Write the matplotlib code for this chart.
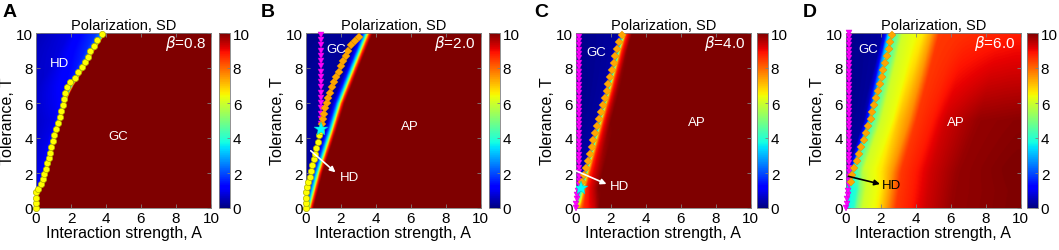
import numpy as np
import matplotlib
matplotlib.use("Agg")
import matplotlib.pyplot as plt

plt.rcParams['font.family'] = ['Liberation Sans', 'DejaVu Sans']

# ---------------- data ----------------
betas = ["0.8", "2.0", "4.0", "6.0"]
panel_letters = ["A", "B", "C", "D"]

# Field edge positions (A where the colour jumps), per panel, as (T, A)
edgeA_T = [0, 1, 2, 3, 4, 5, 6, 6.5, 7, 8, 9, 10]
edgeA_A = [0.05, 0.12, 0.5, 0.75, 1.0, 1.3, 1.65, 1.85, 2.1, 2.75, 3.3, 3.95]
edgeB_T = [0, 2, 4.4, 6, 8, 10]
edgeB_A = [0.12, 0.63, 1.39, 1.87, 2.65, 3.45]
edgeC_T = [0, 1.14, 3, 5, 7, 9, 10]
edgeC_A = [0.12, 0.28, 0.78, 1.3, 1.85, 2.35, 2.65]
edgeD_T = [0, 1, 1.5, 2, 5, 7.5, 10]
edgeD_A = [0.05, 0.2, 0.3, 0.4, 1.4, 2.05, 2.68]

# SD profiles across the edge (offset d = A - edge), at a few T rows
profA_T = [0, 5, 10]
profA_d = [[-1, -0.05, 0, 0.05],
           [-2, -0.3, -0.1, 0, 0.05],
           [-4, -2, -0.5, -0.2, -0.05, 0, 0.05]]
profA_v = [[0.6, 1.2, 8, 10],
           [0.5, 0.9, 1.6, 8, 10],
           [0.45, 0.9, 1.8, 2.6, 4, 8, 10]]

profB_T = [0, 2, 10]
profB_d = [[-1, -0.15, 0, 0.08, 0.15, 0.3],
           [-0.6, -0.35, -0.15, 0, 0.08, 0.15, 0.3],
           [-3.5, -0.4, -0.2, 0, 0.08, 0.18, 0.35]]
profB_v = [[1.5, 2, 4, 6.5, 8.5, 10],
           [0.3, 0.5, 2, 4, 6.5, 8.5, 10],
           [0.1, 0.3, 1.5, 4, 6.5, 8.5, 10]]

profC_T = [0, 1.14, 5, 10]
profC_d = [[-0.2, 0, 0.1, 0.3, 0.9, 1.2],
           [-1, -0.15, -0.05, 0, 0.08, 0.15, 0.3, 0.7, 1.0],
           [-1.3, -0.2, -0.1, 0, 0.08, 0.15, 0.3, 0.5, 0.7],
           [-2.6, -0.25, -0.12, 0, 0.08, 0.15, 0.25, 0.4, 0.55]]
profC_v = [[7, 7, 7.8, 8.6, 9.3, 10],
           [0.2, 0.5, 2, 3, 4, 7, 8.7, 9.4, 10],
           [0.1, 0.3, 1.5, 3, 4, 7, 8.8, 9.5, 10],
           [0.1, 0.3, 1.5, 3, 4, 7, 8.7, 9.3, 10]]

profD_T = [0, 1, 2.3, 5, 10]
profD_d = [[-0.2, 0, 0.37, 0.55, 0.9, 1.7, 2.3, 2.8, 3.6, 4.5, 6.0, 9.8],
           [-0.2, 0, 0.37, 0.55, 0.9, 1.7, 2.3, 2.8, 3.6, 4.5, 6.0, 9.8],
           [-2, -0.4, -0.2, -0.1, 0, 0.3, 0.55, 0.9, 1.5, 2.2, 2.7, 3.5, 4.4, 6.0, 9],
           [-1.4, -0.4, -0.2, -0.1, 0, 0.3, 0.6, 1.25, 1.6, 2.2, 2.6, 3.5, 4.3, 6.2, 8.6],
           [-2.65, -0.6, -0.4, -0.25, 0.0, 0.3, 0.55, 1.7, 2.2, 2.65, 7.3]]
profD_v = [[3.5, 3.6, 4.0, 5.0, 6.0, 6.5, 7.5, 8.5, 8.8, 9.3, 9.8, 10],
           [3.5, 3.6, 4.0, 5.0, 6.0, 6.5, 7.5, 8.5, 8.8, 9.3, 9.8, 10],
           [0.1, 0.3, 1.5, 3.5, 4, 5, 6, 6.2, 6.6, 7.5, 8.5, 8.8, 9.3, 9.8, 10],
           [0.1, 0.3, 1.5, 3.5, 4.0, 5.0, 6.0, 6.4, 7.0, 7.6, 8.5, 8.8, 9.3, 9.8, 9.9],
           [0.1, 0.3, 1.5, 3.5, 4.2, 5.0, 6.0, 6.6, 7.4, 8.5, 8.8]]

# Marker series (A, T)
yellowA_A = [0, 0, 0, 0, 0.13, 0.27, 0.38, 0.48, 0.57, 0.65, 0.72, 0.8, 0.88, 0.95,
             1.05, 1.15, 1.25, 1.35, 1.45, 1.52, 1.58, 1.65, 1.78, 1.95, 2.2, 2.42,
             2.6, 2.78, 2.95, 3.1, 3.3, 3.5, 3.78]
yellowA_T = [0, 0.3, 0.6, 0.9, 1.1, 1.35, 1.65, 1.95, 2.25, 2.55, 2.85, 3.15, 3.5, 3.85,
             4.15, 4.5, 4.85, 5.2, 5.55, 5.9, 6.25, 6.6, 6.9, 7.2, 7.45, 7.75,
             8.05, 8.35, 8.65, 8.95, 9.25, 9.6, 9.95]

yellowB_A = [0, 0, 0, 0, 0.08, 0.15, 0.22, 0.3, 0.38, 0.45, 0.52, 0.6, 0.7, 0.78, 0.85]
yellowB_T = [0, 0.3, 0.6, 0.9, 1.2, 1.5, 1.8, 2.1, 2.45, 2.8, 3.1, 3.45, 3.8, 4.15, 4.4]
magentaB_T = [4.8, 5.1, 5.4, 5.7, 6.0, 6.3, 6.6, 6.9, 7.2, 7.5, 7.8, 8.1, 8.4, 8.7,
              9.0, 9.3, 9.6, 9.9]
magentaB_A = [0.88] * len(magentaB_T)
starB = (0.88, 4.5)
orangeB_A = [0.95, 1.0, 1.06, 1.13, 1.2, 1.3, 1.4, 1.5, 1.62, 1.75, 1.88, 2.0, 2.13,
             2.28, 2.42, 2.6, 2.8, 3.05]
orangeB_T = [4.8, 5.1, 5.4, 5.7, 6.0, 6.3, 6.6, 6.9, 7.2, 7.5, 7.8, 8.1, 8.4,
             8.7, 9.0, 9.3, 9.55, 9.75]

magentaC_T = [0, 0.25, 0.5, 0.75, 1.0, 1.3, 1.55, 1.8, 2.05, 2.3, 2.55, 2.8, 3.05, 3.3,
              3.55, 3.8, 4.05, 4.3, 4.55, 4.8, 5.05, 5.3, 5.55, 5.8, 6.05, 6.3, 6.55,
              6.8, 7.05, 7.3, 7.55, 7.8, 8.05, 8.3, 8.55, 8.8, 9.05, 9.3, 9.55, 9.8]
magentaC_A = [0, 0.03, 0.06, 0.1, 0.14] + [0.2] * 35
starC = (0.29, 1.14)
orangeC_T = [1.5, 1.9, 2.3, 2.7, 3.1, 3.5, 3.9, 4.3, 4.7, 5.1, 5.5, 5.9, 6.3,
             6.7, 7.1, 7.5, 7.9, 8.3, 8.7, 9.1, 9.5, 9.9]
orangeC_A = [0.38, 0.48, 0.59, 0.70, 0.81, 0.91, 1.01, 1.12, 1.22, 1.33, 1.44, 1.55,
             1.66, 1.77, 1.87, 1.97, 2.07, 2.17, 2.27, 2.38, 2.5, 2.62]

magentaD_T = [0, 0.25, 0.5, 0.75, 1.0, 1.3, 1.55, 1.8, 2.05, 2.3, 2.55, 2.8, 3.05, 3.3,
              3.55, 3.8, 4.05, 4.3, 4.55, 4.8, 5.05, 5.3, 5.55, 5.8, 6.05, 6.3, 6.55,
              6.8, 7.05, 7.3, 7.55, 7.8, 8.05, 8.3, 8.55, 8.8, 9.05, 9.3, 9.55, 9.8, 10]
magentaD_A = [0, 0.05, 0.1, 0.12, 0.15] + [0.2] * 36
orangeD_T = [1.5, 1.9, 2.3, 2.7, 3.1, 3.5, 3.9, 4.3, 4.7, 5.1, 5.5, 5.9,
             6.3, 6.7, 7.1, 7.5, 7.9, 8.3, 8.7, 9.1, 9.5, 9.9]
orangeD_A = [0.30, 0.38, 0.50, 0.63, 0.77, 0.90, 1.03, 1.17, 1.30, 1.43, 1.53, 1.63,
             1.74, 1.84, 1.95, 2.05, 2.15, 2.25, 2.35, 2.45, 2.55, 2.65]

# Region labels: (text, A, T, colour)
labelsA = [("HD", 1.34, 8.3, "white"), ("GC", 4.7, 4.1, "white")]
labelsB = [("GC", 1.73, 9.1, "white"), ("AP", 5.96, 4.7, "white")]
labelsC = [("GC", 1.2, 8.9, "white"), ("AP", 6.9, 4.9, "white")]
labelsD = [("GC", 1.28, 9.1, "white"), ("AP", 6.3, 4.9, "white")]

# HD arrows: (tail A, tail T, head A, head T, text A, text T, colour)
arrowB = (0.29, 3.27, 1.7, 2.04, 1.96, 1.75, "white")
arrowC = (0.0, 2.13, 1.76, 1.37, 1.96, 1.27, "white")
arrowD = (0.15, 1.81, 1.96, 1.37, 2.05, 1.3, "black")

ticks = [0, 2, 4, 6, 8, 10]

# ---------------- build fields ----------------
grid = np.linspace(0, 10, 301)


def build_field(eT, eA, pT, pd, pv):
    rows = []
    for t in grid:
        e = np.interp(t, eT, eA)
        d = grid - e
        vals = np.array([np.interp(d, pd[k], pv[k]) for k in range(len(pT))])
        out = np.array([np.interp(t, pT, vals[:, j]) for j in range(len(grid))])
        rows.append(out)
    return np.array(rows)


fields = [
    build_field(edgeA_T, edgeA_A, profA_T, profA_d, profA_v),
    build_field(edgeB_T, edgeB_A, profB_T, profB_d, profB_v),
    build_field(edgeC_T, edgeC_A, profC_T, profC_d, profC_v),
    build_field(edgeD_T, edgeD_A, profD_T, profD_d, profD_v),
]

W, H = 1059, 251
fig = plt.figure(figsize=(W / 100, H / 100), dpi=100)

ax_left_px = [36, 305.7, 575.7, 845.7]
cb_left_px = [219, 488.7, 757, 1027]
letter_px = [3, 261, 534, 803]
ax_bottom = (H - 209) / H
ax_h = 175 / H
ax_w = 175 / W
cb_w = 11 / W

grey = "#7f7f7f"
all_labels = [labelsA, labelsB, labelsC, labelsD]
arrows = [None, arrowB, arrowC, arrowD]

circ = dict(ms=4.5, mfc="yellow", mec="#b0b000", mew=0.5, clip_on=False, zorder=5)
tri = dict(ms=5, color="magenta", mec="#d000d0", mew=0.3, clip_on=False, zorder=5)
dia = dict(ms=3.6, color="orange", mec="#e09000", mew=0.3, clip_on=False, zorder=5)
star = dict(ms=10, color="cyan", mec="#00c0c0", mew=0.3, zorder=6)

for i in range(4):
    ax = fig.add_axes([ax_left_px[i] / W, ax_bottom, ax_w, ax_h])
    im = ax.imshow(fields[i], extent=[0, 10, 0, 10], origin="lower", cmap="jet",
                   vmin=0, vmax=10, aspect="auto", interpolation="bilinear")
    ax.set_xlim(0, 10)
    ax.set_ylim(0, 10)
    ax.set_xticks(ticks)
    ax.set_yticks(ticks)
    ax.tick_params(direction="in", length=3, width=0.6, color=grey, labelsize=11,
                   top=True, right=True, pad=2)
    for s in ax.spines.values():
        s.set_color(grey)
        s.set_linewidth(0.6)
    ax.set_xlabel("Interaction strength, A", fontsize=11.5, labelpad=0)
    ax.set_ylabel("Tolerance, T", fontsize=11.5, labelpad=1)
    ax.set_title("Polarization, SD", fontsize=10.5, pad=3)

    if i == 0:
        ax.plot(yellowA_A, yellowA_T, "o", **circ)
    elif i == 1:
        ax.plot(yellowB_A, yellowB_T, "o", **circ)
        ax.plot(magentaB_A, magentaB_T, "v", **tri)
        ax.plot(orangeB_A, orangeB_T, "D", **dia)
        ax.plot([starB[0]], [starB[1]], "*", **star)
    elif i == 2:
        ax.plot(magentaC_A, magentaC_T, "v", **tri)
        ax.plot(orangeC_A, orangeC_T, "D", **dia)
        ax.plot([starC[0]], [starC[1]], "*", **star)
    else:
        ax.plot(magentaD_A, magentaD_T, "v", **tri)
        ax.plot(orangeD_A, orangeD_T, "D", **dia)

    for (txt, x, y, c) in all_labels[i]:
        ax.text(x, y, txt, color=c, fontsize=9.5, ha="center", va="center", zorder=7)

    ax.text(9.7, 9.45, r"$\beta$=" + betas[i], color="white", fontsize=11,
            ha="right", va="center", zorder=7)

    if arrows[i] is not None:
        ta, tt, ha_, ht, xa, xt, c = arrows[i]
        ax.annotate("", xy=(ha_, ht), xytext=(ta, tt),
                    arrowprops=dict(arrowstyle="-|>", color=c, lw=1.2,
                                    mutation_scale=8, shrinkA=0, shrinkB=0),
                    zorder=7)
        ax.text(xa, xt, "HD", color=c, fontsize=9.5, ha="left", va="center", zorder=7)

    cax = fig.add_axes([cb_left_px[i] / W, ax_bottom, cb_w, ax_h])
    cb = fig.colorbar(im, cax=cax, ticks=ticks)
    cb.ax.tick_params(direction="in", length=2, width=0.6, color=grey, labelsize=11,
                      pad=2)
    cb.outline.set_edgecolor(grey)
    cb.outline.set_linewidth(0.6)

    fig.text(letter_px[i] / W, (H - 4) / H, panel_letters[i], fontsize=14,
             fontweight="bold", ha="left", va="top")

fig.savefig("out.png", dpi=100)
